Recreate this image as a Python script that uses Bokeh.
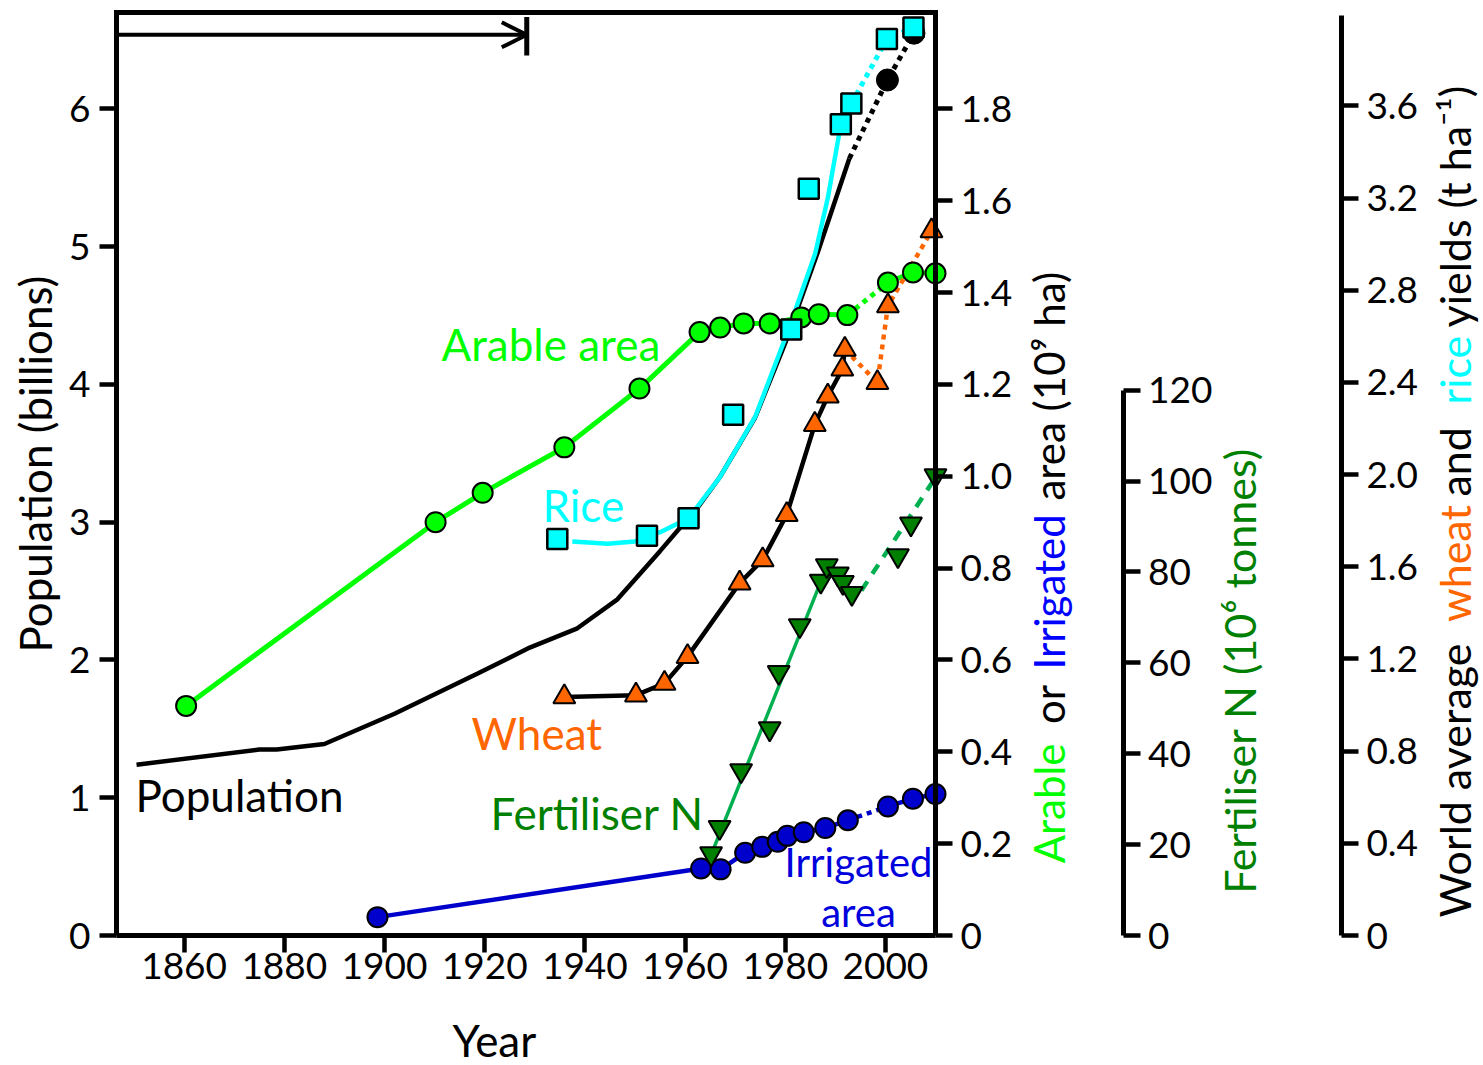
from math import pi
from bokeh.plotting import figure
from bokeh.models import (Range1d, LinearAxis, FixedTicker, Label, Arrow, OpenHead,
                          PrintfTickFormatter)
from bokeh.embed import file_html
from bokeh.resources import INLINE

FONT = "Lato"

# ---------------- data ----------------
# World population (billions)
pop_years = [1850.5, 1875, 1878.5, 1888, 1902, 1918.5, 1929, 1938.5, 1946.5, 1955, 1959,
             1961, 1967, 1974, 1980, 1986.5, 1992.8]
pop_billions = [1.24, 1.35, 1.35, 1.39, 1.61, 1.90, 2.09, 2.23, 2.44, 2.79, 2.96,
                3.03, 3.33, 3.76, 4.30, 4.96, 5.64]
pop_proj_years = [1992.8, 2000.4, 2005.7]
pop_proj = [5.64, 6.21, 6.55]
pop_marker_years = [2000.4, 2005.7]
pop_marker = [6.21, 6.55]

# Rice yield (t/ha)
rice_years = [1934.5, 1952.4, 1960.7, 1969.6, 1981.2, 1984.7, 1991.1, 1993.2, 2000.3, 2005.6]
rice_yield = [1.72, 1.735, 1.81, 2.26, 2.63, 3.24, 3.52, 3.61, 3.89, 3.94]
rice_fit_years = [1937.5, 1944.5, 1950, 1955, 1960.7, 1967, 1974, 1980.5, 1986, 1988.5, 1991.1]
rice_fit = [1.71, 1.70, 1.71, 1.75, 1.81, 1.99, 2.25, 2.62, 2.96, 3.20, 3.52]
rice_proj_years = [1993.2, 2000.3, 2005.6]
rice_proj = [3.61, 3.89, 3.94]

# Wheat yield (t/ha)
wheat_years = [1935.9, 1950.2, 1955.9, 1960.5, 1970.9, 1975.5, 1980.3, 1985.9, 1988.5,
               1991.4, 1991.9, 1998.4, 2000.5, 2009.2]
wheat_yield = [1.035, 1.043, 1.094, 1.21, 1.529, 1.63, 1.826, 2.217, 2.34,
               2.457, 2.543, 2.399, 2.732, 3.057]
wheat_fit_n = 11          # first points joined by the solid fitted curve

# Arable area (10^9 ha)
arable_years = [1860.4, 1910.2, 1919.6, 1935.9, 1950.9, 1962.9, 1967.0, 1971.7, 1976.9,
                1983.2, 1986.7, 1992.4, 2000.5, 2005.5, 2010]
arable_area = [0.50, 0.90, 0.964, 1.063, 1.191, 1.314, 1.324, 1.333, 1.333,
               1.346, 1.353, 1.351, 1.422, 1.444, 1.442]

# Irrigated area (10^9 ha)
irrigated_years = [1898.6, 1963.2, 1967.1, 1972.0, 1975.4, 1978.5, 1980.4, 1983.7, 1988.0,
                   1992.5, 2000.5, 2005.5, 2010]
irrigated_area = [0.040, 0.146, 0.144, 0.180, 0.193, 0.204, 0.217, 0.225, 0.234,
                  0.251, 0.281, 0.298, 0.308]

# Fertiliser N (10^6 tonnes)
fert_years = [1965.2, 1966.9, 1971.2, 1976.9, 1978.7, 1982.9, 1987.1, 1988.3, 1990.5,
              1991.5, 1993.3, 2002.5, 2005.1, 2010]
fert_mt = [18.0, 23.8, 36.3, 45.5, 57.9, 68.2, 78.0, 81.4, 79.6,
           77.7, 75.3, 83.6, 90.6, 101.2]
fert_fit_years = [1964.2, 1987.2]
fert_fit = [15.0, 78.1]
fert_proj_years = [1995.2, 2010]
fert_proj = [75.9, 100.8]

# Arrow at the top of the chart
arrow_start_year = 1846.5
arrow_end_year = 1928.4
arrow_level = 6.538
arrow_bar = [6.387, 6.667]

# Ticks
year_ticks = [1860, 1880, 1900, 1920, 1940, 1960, 1980, 2000]
pop_ticks = [0, 1, 2, 3, 4, 5, 6]
area_ticks = [0, 0.2, 0.4, 0.6, 0.8, 1.0, 1.2, 1.4, 1.6, 1.8]
area_tick_labels = ["0", "0.2", "0.4", "0.6", "0.8", "1.0", "1.2", "1.4", "1.6", "1.8"]
fert_ticks = [0, 20, 40, 60, 80, 100, 120]
yield_ticks = [0, 0.4, 0.8, 1.2, 1.6, 2.0, 2.4, 2.8, 3.2, 3.6]
yield_tick_labels = ["0", "0.4", "0.8", "1.2", "1.6", "2.0", "2.4", "2.8", "3.2", "3.6"]

# ---------------- colours ----------------
C_ARABLE = "#00FF00"
C_IRR = "#0000CC"
C_IRR_TXT = "#0000DD"
C_RICE = "#00FFFF"
C_WHEAT = "#FF6600"
C_FERT_LINE = "#00B050"
C_FERT_MARK = "#007F00"
C_FERT_TXT = "#008000"

# ---------------- geometry ----------------
W, H = 1483, 1065
LEFT_PX = 116          # left edge of the plotting box (population axis)
RIGHT_PX = 935         # right edge of the plotting box (area axis)
ZERO_PX = 935          # vertical pixel of value 0 on every y axis
TOP_PX = 12            # top edge of the plotting box
FERT_AXIS_PX = 1122.6
YIELD_AXIS_PX = 1340.9
BASELINE_FIX = 14      # text baseline correction (px)

X_START, X_END = 1846.5, 2010.0
POP_TOP = 6.70
AREA_TOP = POP_TOP * 0.3
FERT_TOP = 203.1
YIELD_TOP = 4.005

px_per_year = (RIGHT_PX - LEFT_PX) / (X_END - X_START)


def y_range_for(top):
    ppu = (ZERO_PX - TOP_PX) / top
    return Range1d(-(H - ZERO_PX) / ppu, ZERO_PX / ppu)


p = figure(width=W, height=H,
           x_range=Range1d(X_START - LEFT_PX / px_per_year, X_START + (W - LEFT_PX) / px_per_year),
           y_range=y_range_for(POP_TOP),
           output_backend="svg", toolbar_location=None,
           min_border_left=0, min_border_right=0, min_border_top=0, min_border_bottom=0)
p.extra_y_ranges = {"area": y_range_for(AREA_TOP), "fert": y_range_for(FERT_TOP),
                    "yield": y_range_for(YIELD_TOP), "canvas_y": Range1d(H, 0)}
p.extra_x_ranges = {"canvas_x": Range1d(0, W)}
p.xgrid.grid_line_color = None
p.ygrid.grid_line_color = None
p.outline_line_color = None
p.background_fill_color = "white"
p.border_fill_color = "white"


def style_axis(ax, standoff=8):
    ax.axis_line_width = 5
    ax.axis_line_color = "black"
    ax.major_tick_line_width = 4.5
    ax.major_tick_line_color = "black"
    ax.major_tick_out = 17
    ax.major_tick_in = 0
    ax.minor_tick_line_color = None
    ax.major_label_text_font = FONT
    ax.major_label_text_font_size = "37px"
    ax.major_label_text_color = "black"
    ax.major_label_standoff = standoff


xa = p.xaxis[0]
style_axis(xa, standoff=0)
xa.ticker = FixedTicker(ticks=year_ticks)
xa.fixed_location = 0
xa.bounds = (X_START, X_END)

ya = p.yaxis[0]
style_axis(ya, standoff=9)
ya.ticker = FixedTicker(ticks=pop_ticks)
ya.fixed_location = X_START
ya.bounds = (0, POP_TOP)

area_axis = LinearAxis(y_range_name="area", ticker=FixedTicker(ticks=area_ticks),
                       formatter=PrintfTickFormatter(format="%.1f"),
                       major_label_overrides=dict(zip(area_ticks, area_tick_labels)),
                       fixed_location=X_END, bounds=(0, AREA_TOP))
style_axis(area_axis)
p.add_layout(area_axis, "right")

fert_axis = LinearAxis(y_range_name="fert", x_range_name="canvas_x",
                       ticker=FixedTicker(ticks=fert_ticks),
                       fixed_location=FERT_AXIS_PX, bounds=(0, 120))
style_axis(fert_axis)
p.add_layout(fert_axis, "right")

yield_axis = LinearAxis(y_range_name="yield", x_range_name="canvas_x",
                        ticker=FixedTicker(ticks=yield_ticks),
                        formatter=PrintfTickFormatter(format="%.1f"),
                        major_label_overrides=dict(zip(yield_ticks, yield_tick_labels)),
                        fixed_location=YIELD_AXIS_PX, bounds=(0, 3.99))
style_axis(yield_axis)
p.add_layout(yield_axis, "right")

# top edge of the plotting box
p.line([X_START, X_END], [POP_TOP, POP_TOP], line_color="black", line_width=5,
       line_cap="square")

# ---------------- lines ----------------
p.line(arable_years[:12], arable_area[:12], line_color=C_ARABLE, line_width=5, y_range_name="area")
p.line(arable_years[11:13], arable_area[11:13], line_color=C_ARABLE, line_width=5,
       line_dash="5 5", y_range_name="area")
p.line(arable_years[12:], arable_area[12:], line_color=C_ARABLE, line_width=5, y_range_name="area")

p.line(irrigated_years[:10], irrigated_area[:10], line_color=C_IRR, line_width=4.5, y_range_name="area")
p.line(irrigated_years[9:11], irrigated_area[9:11], line_color=C_IRR, line_width=4.5,
       line_dash="5 5", y_range_name="area")
p.line(irrigated_years[10:], irrigated_area[10:], line_color=C_IRR, line_width=4.5, y_range_name="area")

p.line(fert_fit_years, fert_fit, line_color=C_FERT_LINE, line_width=3.5, y_range_name="fert")
p.line(fert_proj_years, fert_proj, line_color=C_FERT_LINE, line_width=4.5, line_dash="11 9",
       y_range_name="fert")

p.line(wheat_years[:wheat_fit_n], wheat_yield[:wheat_fit_n], line_color="black", line_width=4.5,
       y_range_name="yield")
p.line(wheat_years[wheat_fit_n - 1:], wheat_yield[wheat_fit_n - 1:], line_color=C_WHEAT,
       line_width=4.5, line_dash="5 5", y_range_name="yield")

p.line(pop_years, pop_billions, line_color="black", line_width=4.5)
p.line(pop_proj_years, pop_proj, line_color="black", line_width=5, line_dash="5 5")

p.line(rice_fit_years, rice_fit, line_color=C_RICE, line_width=4.5, y_range_name="yield")
p.line(rice_proj_years, rice_proj, line_color=C_RICE, line_width=5, line_dash="5 5",
       y_range_name="yield")

# ---------------- markers ----------------
p.scatter(irrigated_years, irrigated_area, marker="circle", size=20, fill_color=C_IRR,
          line_color="black", line_width=2, y_range_name="area")
p.scatter(fert_years, fert_mt, marker="inverted_triangle", size=22, fill_color=C_FERT_MARK,
          line_color="black", line_width=2, y_range_name="fert")
p.scatter(wheat_years, wheat_yield, marker="triangle", size=22, fill_color=C_WHEAT,
          line_color="black", line_width=2, y_range_name="yield")
p.scatter(arable_years, arable_area, marker="circle", size=20, fill_color=C_ARABLE,
          line_color="black", line_width=2, y_range_name="area")
p.scatter(pop_marker_years, pop_marker, marker="circle", size=22, fill_color="black",
          line_color="black", line_width=1)
p.scatter(rice_years, rice_yield, marker="square", size=20, fill_color=C_RICE,
          line_color="black", line_width=2.5, y_range_name="yield")

# ---------------- arrow ----------------
p.add_layout(Arrow(end=OpenHead(size=25, line_width=4, line_color="black"),
                   x_start=arrow_start_year, y_start=arrow_level,
                   x_end=arrow_end_year, y_end=arrow_level,
                   line_width=4, line_color="black"))
p.segment(x0=[arrow_end_year], y0=[arrow_bar[0]], x1=[arrow_end_year], y1=[arrow_bar[1]],
          line_width=5, line_color="black")


# ---------------- texts (canvas pixel positions of the text baselines) ----------------
def add_text(x_px, y_px, text, color, size="44px", angle=0.0, align="left"):
    if angle == 0.0:
        y_px = y_px - BASELINE_FIX
    else:
        x_px = x_px - BASELINE_FIX
    p.add_layout(Label(x=x_px, y=y_px, text=text, text_color=color, text_font=FONT,
                       text_font_size=size, text_align=align, text_baseline="alphabetic",
                       angle=angle, x_range_name="canvas_x", y_range_name="canvas_y"))


add_text(441, 357, "Arable area", C_ARABLE)
add_text(542, 518, "Rice", C_RICE)
add_text(471, 746, "Wheat", C_WHEAT)
add_text(135, 808, "Population", "black")
add_text(490, 826, "Fertiliser N", C_FERT_TXT)
add_text(858, 875, "Irrigated", C_IRR_TXT, size="40px", align="center")
add_text(858, 925, "area", C_IRR_TXT, size="40px", align="center")
add_text(452, 1053, "Year", "black")

add_text(48, 652, "Population (billions)", "black", angle=pi / 2)

for txt, col, start in [("Arable", C_ARABLE, 862.8), ("or", "black", 723.5),
                        ("Irrigated", "#0000FF", 669.0), ("area (10\u2079 ha)", "black", 500.0)]:
    add_text(1062, start, txt, col, size="42px", angle=pi / 2)

add_text(1253, 893.3, "Fertiliser N (10\u2076 tonnes)", C_FERT_TXT, size="43px", angle=pi / 2)

for txt, col, start in [("World average", "black", 917.0), ("wheat", C_WHEAT, 621.6),
                        ("and", "black", 496.0), ("rice", C_RICE, 404.0),
                        ("yields (t ha\u207b\u00b9)", "black", 327.0)]:
    add_text(1468, start, txt, col, size="43px", angle=pi / 2)

open("out.html", "w").write(file_html(p, INLINE))
